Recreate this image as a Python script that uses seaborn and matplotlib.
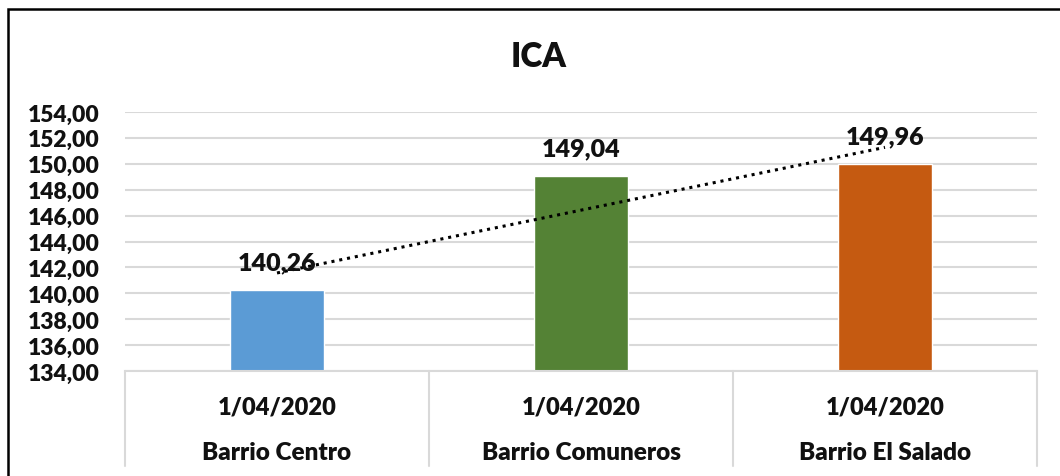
import numpy as np
import pandas as pd
import matplotlib
matplotlib.use("Agg")
import matplotlib.pyplot as plt
import matplotlib.transforms as mtransforms
from matplotlib.patches import Rectangle
import seaborn as sns

# data
barrios = ["Barrio Centro", "Barrio Comuneros", "Barrio El Salado"]
fechas = ["1/04/2020", "1/04/2020", "1/04/2020"]
ica = [140.26, 149.04, 149.96]
colores = ["#5B9BD5", "#548235", "#C55A11"]
y_ticks = [134, 136, 138, 140, 142, 144, 146, 148, 150, 152, 154]

df = pd.DataFrame({"barrio": barrios, "fecha": fechas, "ica": ica})

sns.set_theme(style="white")
plt.rcParams["font.family"] = ["Lato", "DejaVu Sans"]
TXT = "#111111"
W = "heavy"

fig = plt.figure(figsize=(10.6, 4.77), dpi=100)
ax = fig.add_axes([125 / 1060, 1 - 372 / 477, (1037 - 125) / 1060, (372 - 113) / 477])

sns.barplot(data=df, x="barrio", y="ica", hue="barrio", palette=colores,
            width=0.31, legend=False, ax=ax, saturation=1)

ax.set_ylim(y_ticks[0], y_ticks[-1])
ax.set_xlim(-0.5, len(barrios) - 0.5)
ax.set_yticks(y_ticks)
ax.set_yticklabels([f"{v:.2f}".replace(".", ",") for v in y_ticks],
                   fontsize=16.5, fontweight=W, color=TXT)
ax.tick_params(axis="y", length=0, pad=18)
ax.set_xticks([])
ax.set_xlabel("")
ax.set_ylabel("")
ax.grid(axis="y", color="#D9D9D9", linewidth=1.5)
ax.set_axisbelow(True)
for s in ["top", "right", "left"]:
    ax.spines[s].set_visible(False)
ax.spines["bottom"].set_color("#D9D9D9")
ax.spines["bottom"].set_linewidth(1.5)

# data labels
for i, v in enumerate(ica):
    ax.annotate(f"{v:.2f}".replace(".", ","), (i, v), xytext=(0, 12),
                textcoords="offset points", ha="center", va="bottom",
                fontsize=18, fontweight=W, color=TXT)

# linear trendline (dotted)
xs = np.arange(len(ica))
m, b = np.polyfit(xs, ica, 1)
ax.plot(xs, m * xs + b, color="black", linestyle=(0, (1, 1.6)), linewidth=2.2)

# multi-level category axis
trans = mtransforms.blended_transform_factory(ax.transData, ax.transAxes)
depth = -(467 - 372) / (372 - 113)
for xb in np.arange(-0.5, len(barrios), 1.0):
    ax.plot([xb, xb], [0, depth], transform=trans, color="#D9D9D9",
            linewidth=1.5, clip_on=False)
for i, (f, bname) in enumerate(zip(fechas, barrios)):
    ax.text(i, -(408 - 372) / 259, f, transform=trans, ha="center", va="center",
            fontsize=17, fontweight=W, color=TXT)
    ax.text(i, -(453 - 372) / 259, bname, transform=trans, ha="center", va="center",
            fontsize=17.5, fontweight=W, color=TXT)

fig.text(539 / 1060, 1 - 57 / 477, "ICA", ha="center", va="center",
         fontsize=24, fontweight=W, color=TXT)

# chart border
fig.patches.append(Rectangle((8 / 1060, -0.1), 1.2, 1.1 - 10 / 477,
                             transform=fig.transFigure, fill=False,
                             edgecolor="black", linewidth=1.8))

fig.savefig("out.png", dpi=100)
